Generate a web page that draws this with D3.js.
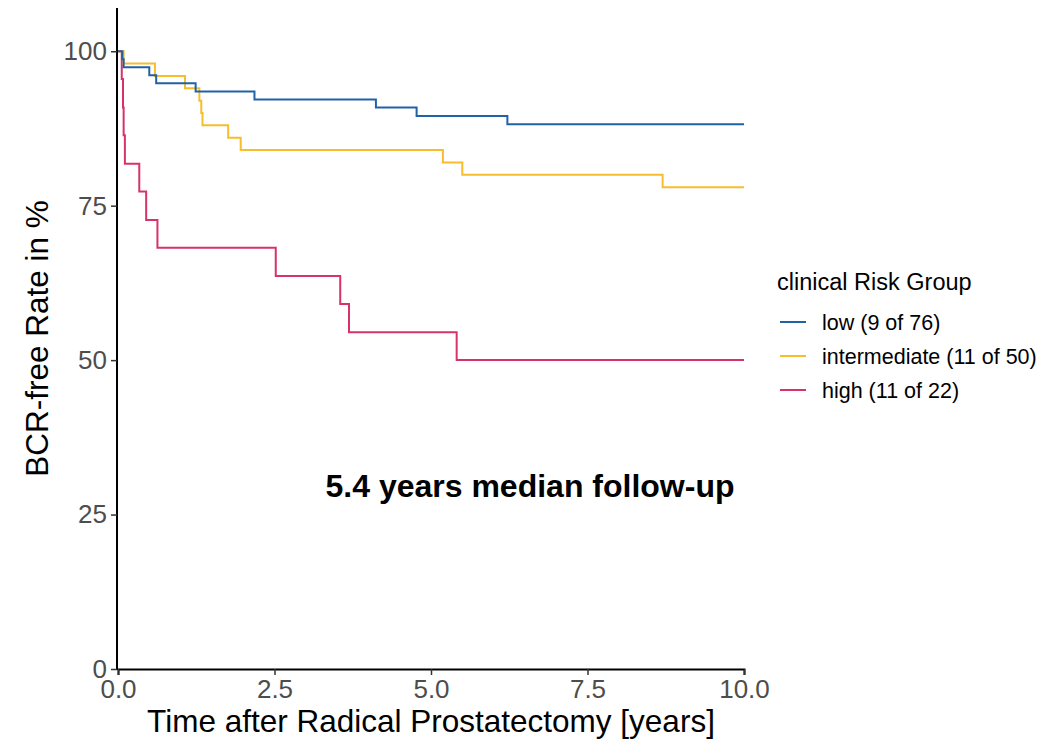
<!DOCTYPE html>
<html>
<head>
<meta charset="utf-8">
<script src="https://cdn.jsdelivr.net/npm/d3@7"></script>
<style>
	body { margin: 0; background: #fff; }
	text { font-family: "Liberation Sans", Arial, Helvetica, sans-serif; }
</style>
</head>
<body>
<div id="chart"></div>
<script>
// Kaplan-Meier step data (time in years, BCR-free %)
var groups = ['low (9 of 76)', 'intermediate (11 of 50)', 'high (11 of 22)'];
var colors = ['#2161A8', '#F7BD2D', '#D7336A'];

var lowTime = [0, 0.07, 0.09, 0.50, 0.61, 1.24, 2.18, 4.12, 4.77, 6.22, 10];
var lowSurv = [100, 98.7, 97.4, 96.1, 94.8, 93.5, 92.2, 90.9, 89.5, 88.2, 88.2];

var interTime = [0, 0.09, 0.59, 1.07, 1.30, 1.33, 1.35, 1.76, 1.96, 5.19, 5.50, 8.70, 10];
var interSurv = [100, 98, 96, 94, 92, 90, 88, 86, 84, 82, 80, 78, 78];

var highTime = [0, 0.06, 0.08, 0.09, 0.11, 0.34, 0.45, 0.63, 2.52, 3.55, 3.69, 5.41, 10];
var highSurv = [100, 95.5, 90.9, 86.4, 81.8, 77.3, 72.7, 68.2, 63.6, 59.1, 54.5, 50, 50];

var xTicks = [0, 2.5, 5, 7.5, 10];
var yTicks = [0, 25, 50, 75, 100];

var width = 1064;
var height = 742;
var pLeft = 118, pRight = 744, pTop = 8, pBottom = 669;

var svg = d3.select('#chart')
	.append('svg')
	.attr('width', width)
	.attr('height', height);

var x = d3.scaleLinear().domain([0, 10]).range([pLeft, pRight]);
var y = d3.scaleLinear().domain([0, 107]).range([pBottom, pTop]);

function toPoints(t, s) {
	return t.map(function(d, i) { return {t: d, s: s[i]}; });
}

var series = [
	toPoints(lowTime, lowSurv),
	toPoints(interTime, interSurv),
	toPoints(highTime, highSurv)
];

var line = d3.line()
	.x(function(d) { return x(d.t); })
	.y(function(d) { return y(d.s); })
	.curve(d3.curveStepAfter);

// high first so low sits on top, like the picture
[2, 1, 0].forEach(function(i) {
	svg.append('path')
		.datum(series[i])
		.attr('d', line)
		.attr('fill', 'none')
		.attr('stroke', colors[i])
		.attr('stroke-width', 2);
});

// axes
var xAxis = svg.append('g')
	.attr('transform', 'translate(0,' + pBottom + ')')
	.call(d3.axisBottom(x).tickValues(xTicks).tickFormat(d3.format('.1f')).tickSizeOuter(0).tickSize(6).tickPadding(5));

var yAxis = svg.append('g')
	.attr('transform', 'translate(' + (pLeft - 1) + ',0)')
	.call(d3.axisLeft(y).tickValues(yTicks).tickSizeOuter(0).tickSize(6).tickPadding(4));

[xAxis, yAxis].forEach(function(a) {
	a.select('.domain').attr('stroke', '#000').attr('stroke-width', 2);
	a.selectAll('.tick line').attr('stroke', '#333').attr('stroke-width', 1.5);
	a.selectAll('.tick text')
		.attr('fill', '#4D4D4D')
		.style('font-size', '26px')
		.style('font-family', '"Liberation Sans", Arial, sans-serif');
});
yAxis.select('.domain').attr('d', 'M0,' + pTop + 'V' + (pBottom + 1));

// axis titles
svg.append('text')
	.attr('x', (pLeft + pRight) / 2)
	.attr('y', 732)
	.attr('text-anchor', 'middle')
	.style('font-size', '31.5px')
	.text('Time after Radical Prostatectomy [years]');

svg.append('text')
	.attr('transform', 'translate(48,' + ((pTop + pBottom) / 2) + ') rotate(-90)')
	.attr('text-anchor', 'middle')
	.style('font-size', '31.5px')
	.text('BCR-free Rate in %');

// annotation
svg.append('text')
	.attr('x', 530)
	.attr('y', 497)
	.attr('text-anchor', 'middle')
	.style('font-size', '32px')
	.style('font-weight', 'bold')
	.text('5.4 years median follow-up');

// legend
var legend = svg.append('g').attr('transform', 'translate(777,0)');

legend.append('text')
	.attr('x', 0)
	.attr('y', 290)
	.style('font-size', '23.5px')
	.text('clinical Risk Group');

var item = legend.selectAll('.legend')
	.data(groups)
	.enter()
	.append('g')
	.attr('class', 'legend')
	.attr('transform', function(d, i) { return 'translate(0,' + (322 + i * 34) + ')'; });

item.append('line')
	.attr('x1', 3).attr('x2', 29)
	.attr('stroke', function(d, i) { return colors[i]; })
	.attr('stroke-width', 2);

item.append('text')
	.attr('x', 45)
	.attr('dy', '0.35em')
	.style('font-size', '21.5px')
	.text(function(d) { return d; });
</script>
</body>
</html>
